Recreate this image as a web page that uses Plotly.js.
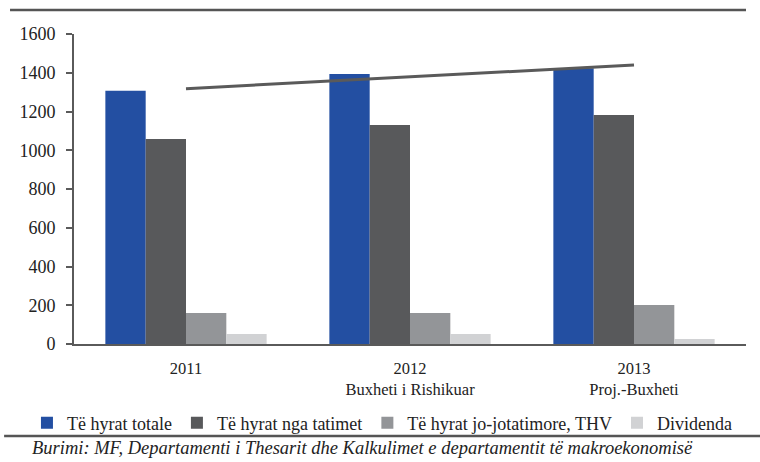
<!DOCTYPE html>
<html>
<head>
<meta charset="utf-8">
<script src="https://cdn.plot.ly/plotly-3.0.1.min.js"></script>
<style>html,body{margin:0;padding:0;background:#fff}#chart{width:760px;height:462px}</style>
</head>
<body>
<div id="chart"></div>
<script>
var categories = ["2011", "2012<br>Buxheti i Rishikuar", "2013<br>Proj.-Buxheti"];
var seriesNames = ["Të hyrat totale", "Të hyrat nga tatimet", "Të hyrat jo-jotatimore, THV", "Dividenda"];
var totalRevenue = [1307, 1393, 1423];
var taxRevenue = [1058, 1130, 1182];
var nonTaxRevenue = [160, 160, 201];
var dividends = [52, 52, 26];
var trendLine = [1318, 1379, 1440];
var yTicks = [0, 200, 400, 600, 800, 1000, 1200, 1400, 1600];
var sourceText = "Burimi: MF, Departamenti i Thesarit dhe Kalkulimet e departamentit të makroekonomisë";

var colors = ["#234FA2", "#58595B", "#939598", "#D1D2D4"];
var FONT = "Liberation Serif, serif";
var seriesValues = [totalRevenue, taxRevenue, nonTaxRevenue, dividends];

var traces = seriesValues.map(function (vals, i) {
  return {
    type: "bar",
    name: seriesNames[i],
    x: categories,
    y: vals,
    marker: {color: colors[i]},
    hoverinfo: "x+y"
  };
});
traces.push({
  type: "scatter",
  mode: "lines",
  x: categories,
  y: trendLine,
  line: {color: "#5a5a5a", width: 3},
  showlegend: false,
  hoverinfo: "y"
});

var layout = {
  width: 760,
  height: 462,
  margin: {l: 74, r: 14, t: 34, b: 118},
  paper_bgcolor: "#ffffff",
  plot_bgcolor: "#ffffff",
  font: {family: FONT, color: "#222222", size: 14},
  barmode: "group",
  bargap: 0.28,
  bargroupgap: 0,
  showlegend: true,
  legend: {
    orientation: "h",
    x: -0.07,
    xanchor: "left",
    y: -0.255,
    yanchor: "middle",
    bgcolor: "rgba(0,0,0,0)",
    borderwidth: 0,
    font: {family: FONT, size: 18, color: "#222222"},
    itemwidth: 30,
    traceorder: "normal"
  },
  xaxis: {
    type: "category",
    showline: true,
    linecolor: "#5a5a5a",
    linewidth: 2,
    ticks: "",
    showgrid: false,
    zeroline: false,
    ticklabelstandoff: 8,
    tickfont: {family: FONT, size: 16.5, color: "#222222"},
    fixedrange: true
  },
  yaxis: {
    range: [0, 1600],
    tickvals: yTicks,
    ticktext: yTicks.map(String),
    showline: true,
    linecolor: "#5a5a5a",
    linewidth: 2,
    ticks: "outside",
    ticklen: 6,
    tickwidth: 2,
    tickcolor: "#5a5a5a",
    showgrid: false,
    zeroline: false,
    ticklabelstandoff: 7,
    tickfont: {family: FONT, size: 18, color: "#222222"},
    fixedrange: true
  },
  shapes: [
    {type: "line", xref: "paper", yref: "paper", x0: -0.0952, x1: 1.0, y0: 1.0774, y1: 1.0774,
     line: {color: "#555555", width: 2.5}},
    {type: "line", xref: "paper", yref: "paper", x0: -0.104, x1: 1.03, y0: -0.2968, y1: -0.2968,
     line: {color: "#555555", width: 2.5}}
  ],
  annotations: [
    {xref: "paper", yref: "paper", x: -0.0655, y: -0.3355, xanchor: "left", yanchor: "middle",
     text: "<i>" + sourceText + "</i>", showarrow: false,
     font: {family: FONT, size: 18.5, color: "#222222"}}
  ]
};

Plotly.newPlot("chart", traces, layout, {displayModeBar: false, staticPlot: true});
</script>
</body>
</html>
